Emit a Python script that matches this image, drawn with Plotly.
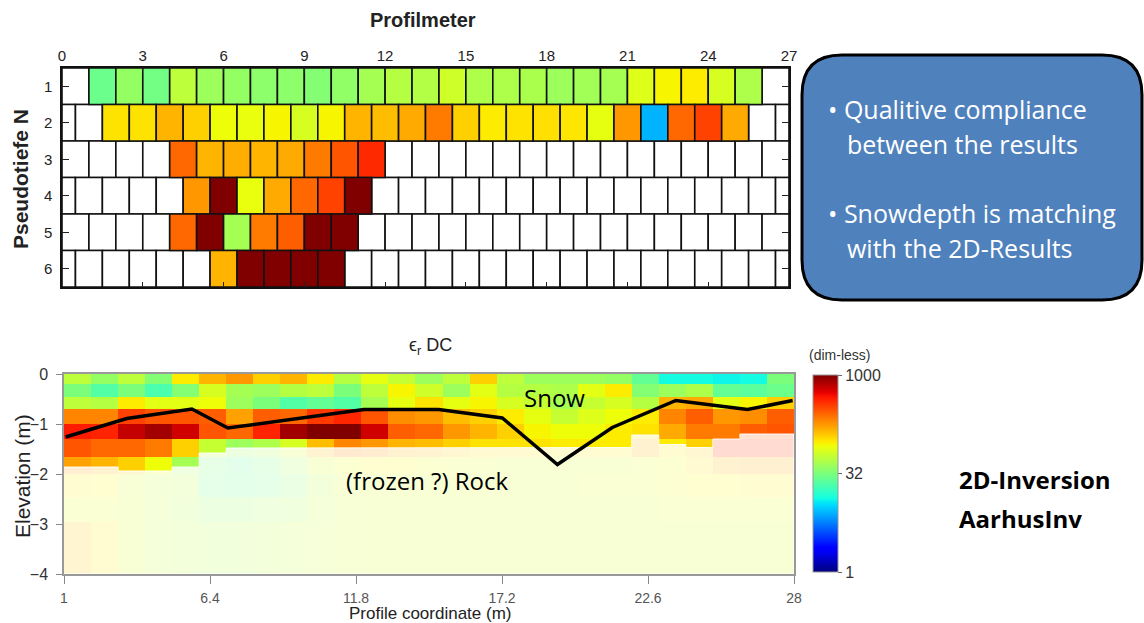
import numpy as np
import plotly.graph_objects as go

W, H = 1144, 623

# ---------------- Pseudosection (top) ----------------
# log10 of apparent permittivity per measured cell, one list per pseudo depth level
PSEUDO_ROWS = [1, 2, 3, 4, 5, 6]
PSEUDO_FIRST = [1.0, 1.5, 4.0, 4.5, 4.0, 5.5]   # profile metre where the measured cells start
PSEUDO_LOG = [
    [1.44, 1.59, 1.47, 1.74, 1.62, 1.59, 1.56, 1.56, 1.53, 1.58, 1.65, 1.71, 1.70,
     1.80, 1.68, 1.68, 1.67, 1.62, 1.64, 1.65, 1.86, 1.95, 1.98, 1.83, 1.68],
    [2.01, 2.01, 2.16, 2.07, 1.92, 1.90, 1.95, 1.83, 1.95, 2.16, 2.13, 2.19,
     2.34, 2.07, 1.98, 2.01, 2.02, 2.00, 1.89, 2.25, 0.90, 2.40, 2.52, 2.19],
    [2.40, 2.16, 2.18, 2.16, 2.19, 2.34, 2.46, 2.60],
    [2.25, 3.00, 1.90, 2.19, 2.40, 2.52, 3.00],
    [2.40, 3.00, 1.65, 2.34, 2.43, 3.00, 3.00],
    [2.16, 3.00, 3.00, 3.00, 3.00],
]
PROFILE_LEN = 27
PSEUDO_XTICKS = list(range(0, 28, 3))

# ---------------- 2D inversion (bottom) ----------------
X_COORD = list(range(1, 29))                      # cell edges along the profile (m)
LAYER_DEPTH = [0.0, 0.2, 0.45, 0.7, 1.0, 1.3, 1.65, 2.0, 2.45, 2.95, 4.0]
EPS_LOG = [
    [1.74, 1.59, 1.74, 1.53, 1.98, 2.16, 2.25, 2.07, 2.16, 1.98, 1.71, 1.89, 1.77, 1.62,
     1.74, 2.07, 1.74, 1.62, 1.62, 1.62, 1.59, 1.41, 1.12, 1.12, 1.10, 1.12, 1.50],
    [1.50, 1.35, 1.50, 1.32, 1.53, 1.83, 1.65, 1.62, 1.71, 1.74, 1.50, 1.74, 1.95, 1.80,
     1.62, 1.88, 1.71, 1.71, 1.68, 1.88, 1.98, 1.53, 1.62, 1.68, 1.41, 1.38, 1.44],
    [1.74, 1.71, 1.98, 1.88, 1.88, 1.92, 1.62, 1.50, 1.35, 1.41, 1.35, 1.65, 1.89, 2.01,
     1.89, 1.95, 1.83, 1.77, 1.65, 1.77, 1.83, 1.71, 2.16, 2.19, 1.88, 1.95, 2.07],
    [2.31, 2.31, 2.52, 2.46, 2.46, 2.43, 2.22, 2.43, 2.40, 2.55, 2.61, 2.46, 2.28, 2.25,
     2.13, 2.07, 1.98, 1.89, 1.77, 1.86, 1.92, 1.98, 2.31, 2.43, 2.25, 2.28, 2.43],
    [2.64, 2.62, 2.82, 2.91, 2.79, 2.46, 2.40, 2.62, 2.91, 3.00, 3.00, 2.79, 2.43, 2.40,
     2.25, 2.16, 2.07, 1.95, 1.92, 1.92, 1.98, 2.01, 2.19, 2.34, 2.34, 2.43, 2.46],
    [2.46, 2.40, 2.40, 2.34, 2.07, 1.77, 1.62, 1.68, 1.83, 2.13, 2.31, 2.25, 2.16, 2.13,
     2.07, 2.01, 2.01, 2.01, 1.98, 1.98, 1.98, 2.16, 1.98, 2.07, 2.55, 2.55, 2.55],
    [2.22, 2.16, 2.07, 1.92, 1.65, 1.50, 1.41, 1.50, 1.65, 1.86, 1.92, 1.95, 1.95, 1.92,
     1.89, 1.89, 1.86, 1.86, 1.86, 1.86, 1.86, 1.89, 1.92, 2.01, 2.16, 2.19, 2.19],
    [1.98, 1.95, 1.83, 1.77, 1.74, 1.47, 1.44, 1.47, 1.56, 1.74, 1.83, 1.86, 1.86, 1.86,
     1.86, 1.86, 1.86, 1.86, 1.86, 1.89, 1.89, 1.89, 1.92, 1.95, 1.95, 1.98, 1.98],
    [1.89, 1.89, 1.86, 1.77, 1.71, 1.62, 1.62, 1.65, 1.68, 1.77, 1.83, 1.86, 1.86, 1.86,
     1.86, 1.86, 1.86, 1.86, 1.86, 1.86, 1.86, 1.86, 1.89, 1.89, 1.89, 1.89, 1.89],
    [2.10, 1.98, 1.86, 1.77, 1.74, 1.71, 1.71, 1.74, 1.77, 1.80, 1.83, 1.86, 1.86, 1.86,
     1.86, 1.86, 1.86, 1.86, 1.86, 1.86, 1.86, 1.86, 1.86, 1.86, 1.86, 1.86, 1.86],
]
# depth of investigation per column (m); cells below are shaded
DOI_DEPTH = [1.86, 1.86, 1.94, 1.94, 1.86, 1.58, 1.48, 1.48, 1.47, 1.47, 1.47, 1.47, 1.47, 1.47,
             1.47, 1.47, 1.47, 1.47, 1.47, 1.47, 1.47, 1.22, 1.41, 1.47, 1.30, 1.20, 1.20]
# snow / rock interface picked from the pseudosection
SNOW_X = [1.06, 3.32, 5.73, 7.06, 12.09, 14.86, 17.21, 19.25, 21.28, 23.63, 26.28, 27.95]
SNOW_Z = [-1.26, -0.89, -0.70, -1.08, -0.71, -0.71, -0.88, -1.81, -1.07, -0.53, -0.71, -0.53]
X2_TICKS = [1, 6.4, 11.8, 17.2, 22.6, 28]
CB_TICKS = [1, 32, 1000]


def jet(t):
    r = np.interp(t, [0, 0.35, 0.66, 0.89, 1], [0, 0, 1, 1, 0.5])
    g = np.interp(t, [0, 0.125, 0.375, 0.64, 0.91, 1], [0, 0, 1, 1, 0, 0])
    b = np.interp(t, [0, 0.11, 0.34, 0.65, 1], [0.5, 1, 1, 0, 0])
    return f"rgb({int(round(r*255))},{int(round(g*255))},{int(round(b*255))})"


JET = [[float(t), jet(t)] for t in np.linspace(0, 1, 81)]


def px(x):
    return x / W


def py(y):
    return 1 - y / H


NARROW = "Liberation Sans Narrow, Arial Narrow, Liberation Sans"
SANS = "Liberation Sans"
SLIDE = "Open Sans"

fig = go.Figure()

# ---- pseudosection cells as horizontal bars ----
col_base, col_y, col_val = [], [], []
white_base, white_w, white_y = [], [], []
for row, first, vals in zip(PSEUDO_ROWS, PSEUDO_FIRST, PSEUDO_LOG):
    off = 0.0 if row % 2 == 1 else 0.5
    edges = [0.0] + [off + k for k in range(PROFILE_LEN + 1) if 0 < off + k < PROFILE_LEN] + [float(PROFILE_LEN)]
    for a, b in zip(edges[:-1], edges[1:]):
        k = int(round(a - first))
        if abs(a - first - k) < 1e-6 and 0 <= k < len(vals):
            continue
        white_base.append(a)
        white_w.append(b - a)
        white_y.append(row)
    for k, v in enumerate(vals):
        col_base.append(first + k)
        col_y.append(row)
        col_val.append(v)

fig.add_trace(go.Bar(
    orientation="h", base=white_base, x=white_w, y=white_y, width=1,
    marker=dict(color="white", line=dict(color="#111", width=1.6)),
    xaxis="x", yaxis="y", hoverinfo="skip"))
fig.add_trace(go.Bar(
    orientation="h", base=col_base, x=[1] * len(col_base), y=col_y, width=1,
    marker=dict(color=col_val, colorscale=JET, cmin=0, cmax=3, showscale=False,
                line=dict(color="#111", width=1.6)),
    xaxis="x", yaxis="y"))

# ---- inversion section ----
y_edges = [-d for d in LAYER_DEPTH][::-1]
z = EPS_LOG[::-1]
fig.add_trace(go.Heatmap(
    x=X_COORD, y=y_edges, z=z, colorscale=JET, zmin=0, zmax=3,
    xaxis="x2", yaxis="y2",
    colorbar=dict(
        x=px(813), xanchor="left", xpad=0, y=py(473.5), yanchor="middle", ypad=0,
        len=197, lenmode="pixels", thickness=25, thicknessmode="pixels",
        outlinecolor="#999", outlinewidth=1,
        tickvals=[np.log10(v) for v in CB_TICKS], ticktext=[str(v) for v in CB_TICKS],
        ticks="outside", ticklen=4, tickcolor="#666",
        tickfont=dict(family=NARROW, size=16, color="#333"),
    ),
))

# shading below the depth of investigation
fx, fy = [], []
for i, d in enumerate(DOI_DEPTH):
    fx += [X_COORD[i], X_COORD[i + 1]]
    fy += [-d, -d]
fx += [X_COORD[-1], X_COORD[0]]
fy += [-LAYER_DEPTH[-1], -LAYER_DEPTH[-1]]
fig.add_trace(go.Scatter(
    x=fx, y=fy, fill="toself", fillcolor="rgba(255,255,255,0.82)",
    mode="lines", line=dict(color="rgba(255,255,255,0.9)", width=1),
    xaxis="x2", yaxis="y2", hoverinfo="skip"))

fig.add_trace(go.Scatter(
    x=SNOW_X, y=SNOW_Z, mode="lines", line=dict(color="black", width=3.5),
    xaxis="x2", yaxis="y2"))

# ---- axes ----
fig.update_layout(
    width=W, height=H, margin=dict(l=0, r=0, t=0, b=0, autoexpand=False),
    paper_bgcolor="white", plot_bgcolor="white",
    barmode="overlay", showlegend=False,
    font=dict(family=SANS, color="#222"),
    xaxis=dict(domain=[px(62), px(789)], range=[0, PROFILE_LEN], side="top",
               tickvals=PSEUDO_XTICKS, ticks="inside", ticklen=5, tickcolor="#222",
               ticklabelstandoff=-1, automargin=False,
               showline=True, linecolor="#111", linewidth=1.5, mirror="ticks",
               showgrid=False, zeroline=False,
               tickfont=dict(family=NARROW, size=15, color="#222"), anchor="y"),
    yaxis=dict(domain=[py(287), py(68)], range=[6.5, 0.5], tickvals=PSEUDO_ROWS,
               ticks="inside", ticklen=7, tickcolor="#222", ticklabelstandoff=5,
               automargin=False,
               showline=True, linecolor="#111", linewidth=1.5, mirror="ticks",
               showgrid=False, zeroline=False,
               tickfont=dict(family=NARROW, size=15, color="#222"), anchor="x"),
    xaxis2=dict(domain=[px(64), px(794)], range=[1, 28], tickvals=X2_TICKS,
                ticktext=[f"{v:g}" for v in X2_TICKS],
                ticks="outside", ticklen=8, tickcolor="#888", ticklabelstandoff=2,
                automargin=False,
                showline=True, linecolor="#999", linewidth=1.5, mirror=True,
                showgrid=False, zeroline=False,
                tickfont=dict(family=NARROW, size=14, color="#555"), anchor="y2"),
    yaxis2=dict(domain=[py(574), py(374)], range=[-4, 0], tickvals=[0, -1, -2, -3, -4],
                ticks="outside", ticklen=6, tickcolor="#888", ticklabelstandoff=5,
                automargin=False,
                showline=True, linecolor="#999", linewidth=1.5, mirror=True,
                showgrid=False, zeroline=False,
                tickfont=dict(family=SANS, size=16, color="#333"), anchor="x2"),
)

# ---- rounded text box ----
x0, x1, y0, y1, r = 802, 1142, 55, 300, 40
path = (f"M {px(x0 + r)} {py(y0)} L {px(x1 - r)} {py(y0)} Q {px(x1)} {py(y0)} {px(x1)} {py(y0 + r)} "
        f"L {px(x1)} {py(y1 - r)} Q {px(x1)} {py(y1)} {px(x1 - r)} {py(y1)} "
        f"L {px(x0 + r)} {py(y1)} Q {px(x0)} {py(y1)} {px(x0)} {py(y1 - r)} "
        f"L {px(x0)} {py(y0 + r)} Q {px(x0)} {py(y0)} {px(x0 + r)} {py(y0)} Z")
fig.add_shape(type="path", path=path, xref="paper", yref="paper",
              fillcolor="#4f81bd", line=dict(color="black", width=3), layer="above")

ann = []


def text(x, y, s, size, color="#222", family=SANS, xanchor="center", **kw):
    ann.append(dict(x=px(x), y=py(y), xref="paper", yref="paper", text=s, showarrow=False,
                    xanchor=xanchor, yanchor="middle",
                    font=dict(family=family, size=size, color=color), **kw))


text(423, 20, "<b>Profilmeter</b>", 20)
text(21, 179, "<b>Pseudotiefe N</b>", 21, textangle=-90)
text(430, 346, "ϵ<sub>r</sub> DC", 18)
text(22, 476, "Elevation (m)", 21, textangle=-90)
text(430, 613, "Profile coordinate (m)", 17)
text(839, 355, "(dim-less)", 14, color="#333")
text(826, 109, "• Qualitive compliance", 25, color="white", family=SLIDE, xanchor="left")
text(845, 144, "between the results", 25, color="white", family=SLIDE, xanchor="left")
text(826, 213, "• Snowdepth is matching", 25, color="white", family=SLIDE, xanchor="left")
text(845, 248, "with the 2D-Results", 25, color="white", family=SLIDE, xanchor="left")
text(957, 479, "<b>2D-Inversion</b>", 24, color="black", family=SLIDE, xanchor="left")
text(957, 518, "<b>AarhusInv</b>", 24, color="black", family=SLIDE, xanchor="left")

ann.append(dict(x=19.15, y=-0.47, xref="x2", yref="y2", text="Snow", showarrow=False,
                font=dict(family=SLIDE, size=24, color="black")))
ann.append(dict(x=14.44, y=-2.13, xref="x2", yref="y2", text="(frozen ?) Rock", showarrow=False,
                font=dict(family=SLIDE, size=24, color="black")))
fig.update_layout(annotations=ann)

fig.write_html("out.html", post_script="document.body.style.margin='0';")
